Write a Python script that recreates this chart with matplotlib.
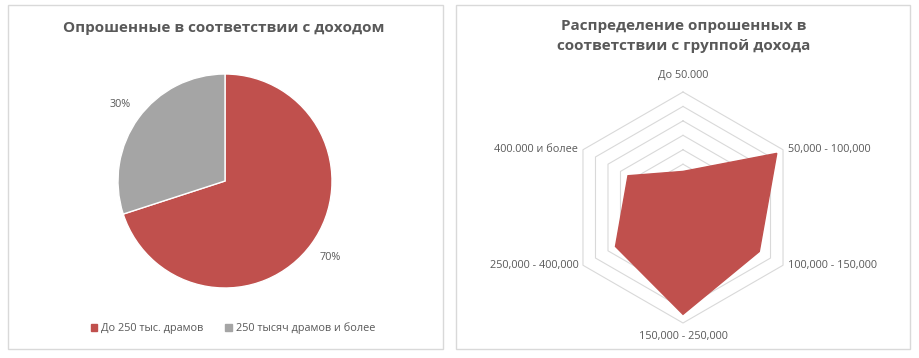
import matplotlib.pyplot as plt
import matplotlib.patches as patches
import numpy as np

plt.rcParams['font.family'] = ['Open Sans', 'DejaVu Sans']

# pie data
pie_labels = ["До 250 тыс. драмов", "250 тысяч драмов и более"]
pie_values = [70, 30]

# radar data
radar_cats = ["До 50.000", "50,000 - 100,000", "100,000 - 150,000",
              "150,000 - 250,000", "250,000 - 400,000", "400.000 и более"]
radar_values = [12.5, 37.5, 30.5, 37, 27, 22]
radar_max = 40
radar_step = 5

RED = "#C0504D"
GRAY = "#A5A5A5"
TXT = "#595959"
GRID = "#D9D9D9"

W, H = 919, 358
fig = plt.figure(figsize=(W / 100, H / 100), dpi=100)

# panel borders
for x0, x1 in [(8, 443), (456, 910)]:
    fig.patches.append(patches.Rectangle((x0 / W, 1 - 349 / H), (x1 - x0) / W, (349 - 5) / H,
                                         transform=fig.transFigure, fill=False,
                                         edgecolor=GRID, linewidth=1))

# ---- pie ----
pr = 107
cx, cy = 225, 181
ax1 = fig.add_axes([(cx - 1.5 * pr) / W, (H - cy - 1.5 * pr) / H, 3 * pr / W, 3 * pr / H])
wedges, _, autotexts = ax1.pie(pie_values, colors=[RED, GRAY], startangle=90, counterclock=False,
                               autopct='%d%%', pctdistance=1.21,
                               wedgeprops=dict(edgecolor='white', linewidth=1),
                               textprops=dict(color=TXT, fontsize=7.8))
ax1.set_xlim(-1.5, 1.5)
ax1.set_ylim(-1.5, 1.5)
ax1.set_aspect('equal')
ax1.axis('off')

fig.text(224 / W, 1 - 28 / H, "Опрошенные в соответствии с доходом", ha='center', va='center',
         fontsize=11, fontweight='bold', color=TXT)

# legend
handles = [patches.Patch(color=c) for c in [RED, GRAY]]
fig.legend(handles, pie_labels, loc='center', bbox_to_anchor=(233 / W, 1 - 328 / H), ncol=2,
           frameon=False, fontsize=7.8, labelcolor=TXT, handlelength=0.6, handleheight=0.6,
           handletextpad=0.4, columnspacing=2.0)

# ---- radar ----
rr = 115.5
rx, ry = 683, 207.5
ax2 = fig.add_axes([(rx - 1.5 * rr) / W, (H - ry - 1.5 * rr) / H, 3 * rr / W, 3 * rr / H])
ax2.set_xlim(-1.5 * radar_max, 1.5 * radar_max)
ax2.set_ylim(-1.5 * radar_max, 1.5 * radar_max)
ax2.set_aspect('equal')
ax2.axis('off')

ang = np.pi / 2 - np.arange(len(radar_cats)) * 2 * np.pi / len(radar_cats)
ang_c = np.append(ang, ang[0])
for lvl in np.arange(radar_step, radar_max + 0.1, radar_step):
    ax2.plot(lvl * np.cos(ang_c), lvl * np.sin(ang_c), color=GRID, linewidth=0.8, zorder=1,
             clip_on=False)
vals = np.array(radar_values)
ax2.fill(vals * np.cos(ang), vals * np.sin(ang), color=RED, zorder=2, clip_on=False)

lab_pos = [(0, 1.14, 'center'), (1.0, 0.5, 'left'), (1.0, -0.5, 'left'),
           (0, -1.12, 'center'), (-1.0, -0.5, 'right'), (-1.0, 0.5, 'right')]
for name, (lx, ly, ha) in zip(radar_cats, lab_pos):
    dx = 0.04 if ha == 'left' else (-0.04 if ha == 'right' else 0)
    ax2.text((lx * 0.866 + dx) * radar_max if ha != 'center' else 0,
             ly * radar_max, name, ha=ha, va='center',
             fontsize=7.8, color=TXT, clip_on=False)

fig.text(684 / W, 1 - 36 / H, "Распределение опрошенных в\nсоответствии с группой дохода",
         ha='center', va='center', fontsize=11, fontweight='bold', color=TXT, linespacing=1.6)

fig.savefig("out.png", dpi=100)
